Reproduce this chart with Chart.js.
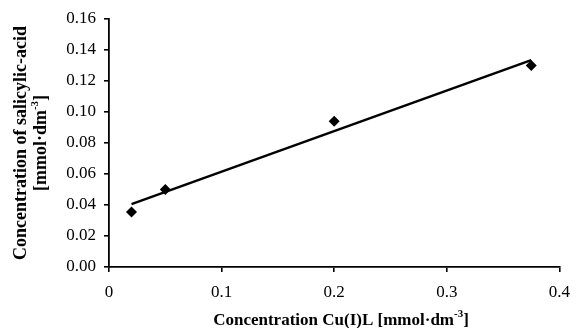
<!DOCTYPE html>
<html>
<head>
<meta charset="utf-8">
<script src="https://cdn.jsdelivr.net/npm/chart.js@4"></script>
<style>
html,body{margin:0;padding:0;background:#fff;}
#wrap{width:580px;height:328px;position:relative;}
</style>
</head>
<body>
<div id="wrap"><canvas id="c" width="580" height="328"></canvas></div>
<script>
// Data
const concCuL = [0.02, 0.05, 0.2, 0.375];
const concSalicylic = [0.0355, 0.050, 0.094, 0.130];
const trendX = [0.02, 0.375];
const trendY = [0.0405, 0.1335];
const xTicks = [0, 0.1, 0.2, 0.3, 0.4];
const yTicks = [0, 0.02, 0.04, 0.06, 0.08, 0.10, 0.12, 0.14, 0.16];
const xTitle = ['Concentration Cu(I)L [mmol·dm', '-3', ']'];
const yTitle1 = 'Concentration of salicylic-acid';
const yTitle2 = ['[mmol·dm', '-3', ']'];

const FONT = '"Liberation Serif", "Times New Roman", serif';

function drawSupText(ctx, parts, cx, cy, size) {
  const sup = Math.round(size * 0.62);
  ctx.font = 'bold ' + size + 'px ' + FONT;
  const w0 = ctx.measureText(parts[0]).width;
  const w2 = ctx.measureText(parts[2]).width;
  ctx.font = 'bold ' + sup + 'px ' + FONT;
  const w1 = ctx.measureText(parts[1]).width;
  const total = w0 + w1 + w2;
  let x = cx - total / 2;
  ctx.textBaseline = 'alphabetic';
  ctx.textAlign = 'left';
  ctx.font = 'bold ' + size + 'px ' + FONT;
  ctx.fillText(parts[0], x, cy);
  x += w0;
  ctx.font = 'bold ' + sup + 'px ' + FONT;
  ctx.fillText(parts[1], x, cy - size * 0.45);
  x += w1;
  ctx.font = 'bold ' + size + 'px ' + FONT;
  ctx.fillText(parts[2], x, cy);
}

const titlePlugin = {
  id: 'titles',
  afterDraw(chart) {
    const ctx = chart.ctx;
    const area = chart.chartArea;
    ctx.save();
    ctx.fillStyle = '#000';
    // x title
    drawSupText(ctx, xTitle, 341, 325, 17);
    // y title
    const cy = (area.top + area.bottom) / 2;
    ctx.translate(0, cy);
    ctx.rotate(-Math.PI / 2);
    ctx.font = 'bold 18px ' + FONT;
    ctx.textAlign = 'center';
    ctx.textBaseline = 'alphabetic';
    ctx.fillText(yTitle1, 0, 26);
    drawSupText(ctx, yTitle2, 0, 46, 18);
    ctx.restore();
  }
};

const scatterData = concCuL.map((x, i) => ({x: x, y: concSalicylic[i]}));
const trendData = trendX.map((x, i) => ({x: x, y: trendY[i]}));

new Chart(document.getElementById('c'), {
  type: 'scatter',
  data: {
    datasets: [
      {
        type: 'line',
        data: trendData,
        borderColor: '#000',
        borderWidth: 2.4,
        pointRadius: 0,
        fill: false,
        tension: 0
      },
      {
        data: scatterData,
        pointStyle: 'rectRot',
        pointRadius: 5.5,
        backgroundColor: '#000',
        borderColor: '#000',
        borderWidth: 0
      }
    ]
  },
  options: {
    responsive: false,
    animation: false,
    devicePixelRatio: 1,
    layout: {padding: {left: 0, right: 14, top: 19, bottom: 0}},
    plugins: {legend: {display: false}, tooltip: {enabled: false}},
    scales: {
      x: {
        type: 'linear',
        min: 0, max: 0.4,
        afterBuildTicks: s => { s.ticks = xTicks.map(v => ({value: v})); },
        afterFit: s => { s.height = 61; },
        grid: {display: true, drawOnChartArea: false, drawTicks: true, tickLength: 5, color: '#000', lineWidth: 1.6},
        border: {display: true, color: '#000', width: 1.8},
        ticks: {
          color: '#000', padding: 10,
          font: {family: FONT, size: 17},
          maxRotation: 0,
          callback: v => v === 0 ? '0' : v.toFixed(1)
        }
      },
      y: {
        type: 'linear',
        min: 0, max: 0.16,
        afterBuildTicks: s => { s.ticks = yTicks.map(v => ({value: v})); },
        afterFit: s => { s.width = 109; },
        grid: {display: true, drawOnChartArea: false, drawTicks: true, tickLength: 5, color: '#000', lineWidth: 1.6},
        border: {display: true, color: '#000', width: 1.8},
        ticks: {
          color: '#000', padding: 8,
          font: {family: FONT, size: 17},
          callback: v => v.toFixed(2)
        }
      }
    }
  },
  plugins: [titlePlugin]
});
</script>
</body>
</html>
